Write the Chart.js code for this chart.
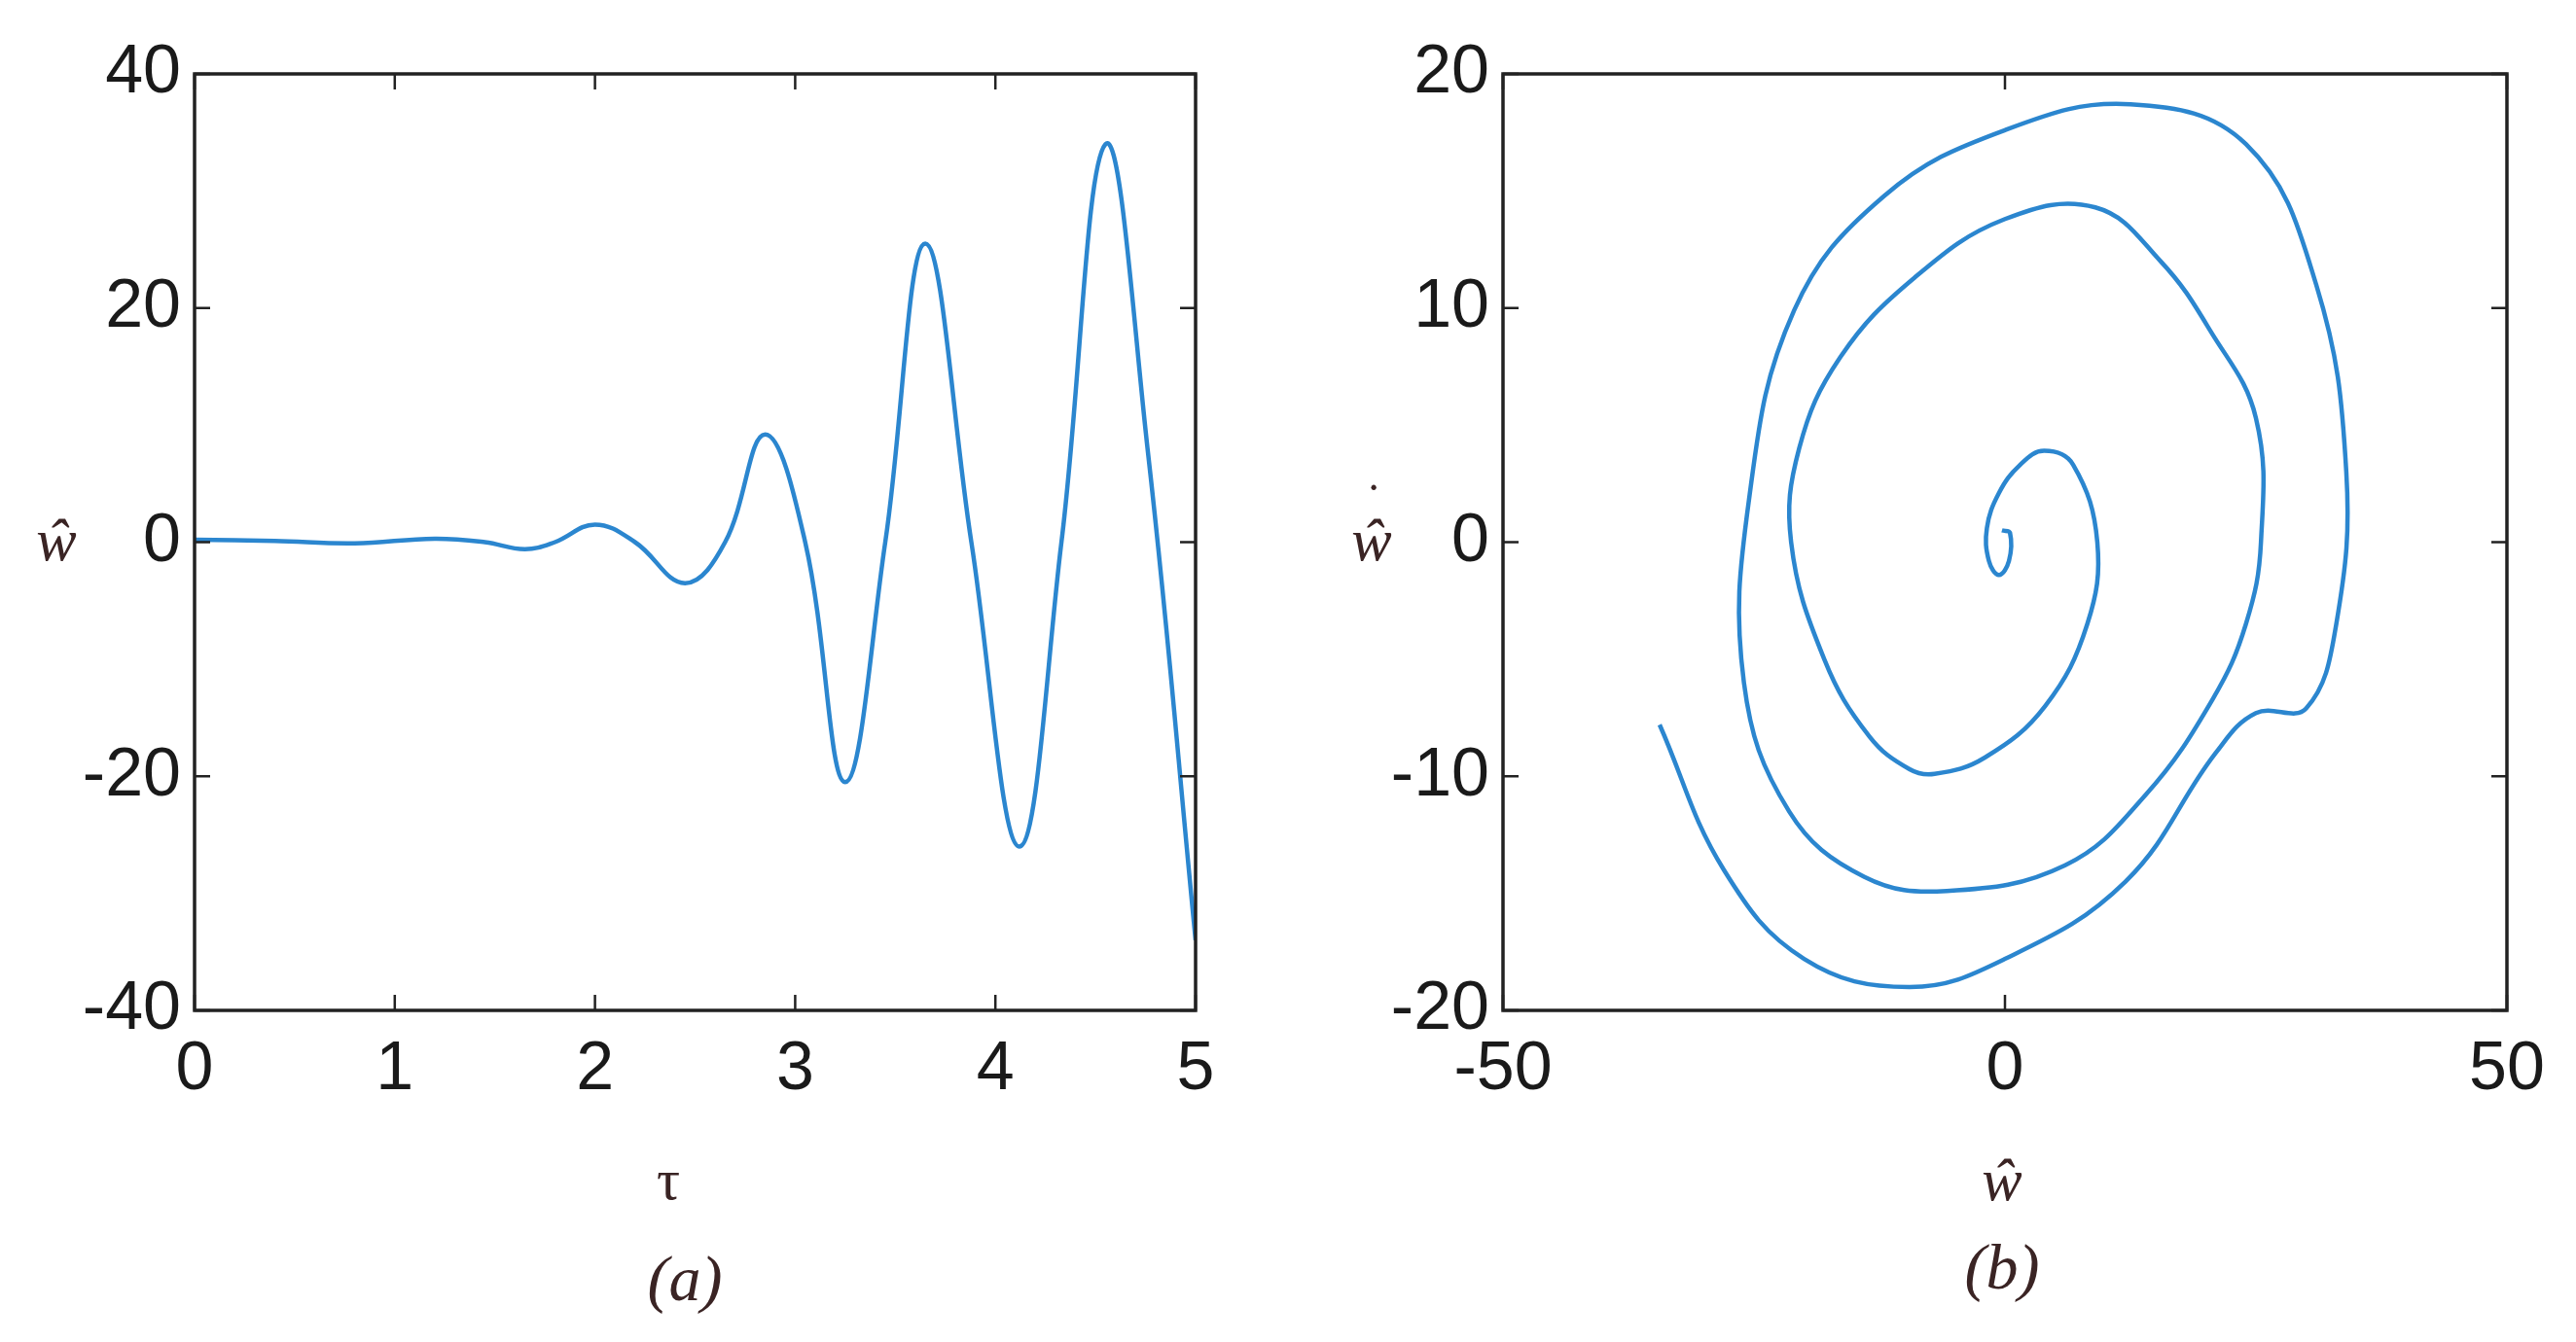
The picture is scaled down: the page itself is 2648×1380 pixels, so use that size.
<!DOCTYPE html>
<html><head><meta charset="utf-8">
<script src="https://cdn.jsdelivr.net/npm/chart.js@4"></script>
<style>
body{margin:0;width:2648px;height:1380px;background:#fff;position:relative;overflow:hidden}
canvas{position:absolute;top:0}
.lbl{position:absolute;font-family:"Liberation Serif","DejaVu Serif",serif;font-style:italic;color:#3a2424;transform:translate(-50%,-50%);white-space:nowrap}
</style></head><body>
<canvas id="ca" style="left:0"></canvas>
<canvas id="cb" style="left:1345px"></canvas>
<div class="lbl" style="left:58px;top:555px;font-size:62px">ŵ</div>
<div class="lbl" style="left:687px;top:1213px;font-size:60px;font-style:normal">τ</div>
<div class="lbl" style="left:704px;top:1315px;font-size:66px">(a)</div>
<div class="lbl" style="left:1410px;top:555px;font-size:62px">ŵ</div>
<div class="lbl" style="left:1412px;top:515px;font-size:50px;font-style:normal">˙</div>
<div class="lbl" style="left:2058px;top:1213px;font-size:62px">ŵ</div>
<div class="lbl" style="left:2058px;top:1303px;font-size:66px">(b)</div>
<script>
const tauVals=[0,0.4,0.8,1.2,1.45,1.65,1.8,2.0,2.2,2.45,2.65,2.85,3.05,3.25,3.45,3.65,3.88,4.12,4.33,4.55,4.76,5.0];
const wVals=[0.2,0.1,-0.1,0.3,0,-0.6,0,1.5,0,-3.5,0,9.2,0,-20.5,0,25.5,0,-26,0,34,8,-34];
const phaseW=[-0.3,0.5,0.4,-0.6,-1.6,-1.8,-0.6,1.5,3.9,6.8,9.2,8.2,4,-2,-7,-9.5,-13.5,-18,-21.3,-20.5,-16.4,-9,0,9,15.5,20.5,25,25.5,24,20.7,14,6,-5.8,-14,-21.5,-26,-25.5,-21,-12,0,12.5,24,31,34,33,30,25,21,12,0,-9.5,-20,-28,-34.4];
const phaseD=[0.5,0.4,-0.8,-1.4,-0.8,0.6,2.1,3.3,3.9,3.3,0,-3.5,-7,-9.2,-9.9,-9.7,-8.3,-5,0,4,7.9,11.3,13.8,14.3,12,9,5.3,0,-3.5,-6.7,-10.8,-13.8,-14.9,-14.3,-11.5,-6,1.8,9.9,14.8,17.6,18.7,17,11,3,-3.5,-7.1,-7.3,-9,-14.5,-17.8,-19,-17.8,-14,-7.8];
const xTicksA=[0,1,2,3,4,5], yTicksA=[-40,-20,0,20,40];
const xTicksB=[-50,0,50], yTicksB=[-20,-10,0,10,20];
const blue='#2b86cf';
const frame={id:'frame',afterDraw(c){const a=c.chartArea,x=c.ctx;x.save();x.strokeStyle='#222';x.lineWidth=3.5;x.strokeRect(a.left,a.top,a.right-a.left,a.bottom-a.top);
 x.lineWidth=2.5;const sx=c.scales.x,sy=c.scales.y;
 sx.ticks.forEach(t=>{const p=sx.getPixelForValue(t.value);x.beginPath();x.moveTo(p,a.bottom);x.lineTo(p,a.bottom-16);x.moveTo(p,a.top);x.lineTo(p,a.top+16);x.stroke();});
 sy.ticks.forEach(t=>{const p=sy.getPixelForValue(t.value);x.beginPath();x.moveTo(a.left,p);x.lineTo(a.left+16,p);x.moveTo(a.right,p);x.lineTo(a.right-16,p);x.stroke();});
 x.restore();}};
const font={family:'"Liberation Sans",Arial,sans-serif',size:70};
function axis(min,max,ticks,isY){return {type:'linear',min,max,grid:{display:false,drawTicks:false},border:{display:false},
 afterBuildTicks:s=>{s.ticks=ticks.map(v=>({value:v}));},
 ticks:{color:'#1a1a1a',font,padding:isY?14:20,maxRotation:0,autoSkip:false,callback:v=>String(v)},
 afterFit:s=>{if(isY)s.width=200;else s.height=341;}};}
function make(id,w,data,xr,yr,xt,yt,padR){
 const cv=document.getElementById(id);cv.width=w;cv.height=1380;cv.style.width=w+'px';cv.style.height='1380px';
 new Chart(cv,{type:'scatter',data:{datasets:[{data,showLine:true,borderColor:blue,borderWidth:4.5,pointRadius:0,tension:0.4}]},
 options:{responsive:false,animation:false,devicePixelRatio:1,layout:{padding:{top:76,right:padR,left:0,bottom:0}},
 plugins:{legend:{display:false},tooltip:{enabled:false}},
 scales:{x:axis(xr[0],xr[1],xt,false),y:axis(yr[0],yr[1],yt,true)}},plugins:[frame]});}
make('ca',1300,tauVals.map((t,i)=>({x:t,y:wVals[i]})),[0,5],[-40,40],xTicksA,yTicksA,71);
make('cb',1303,phaseW.map((v,i)=>({x:v,y:phaseD[i]})),[-50,50],[-20,20],xTicksB,yTicksB,71);
</script></body></html>
